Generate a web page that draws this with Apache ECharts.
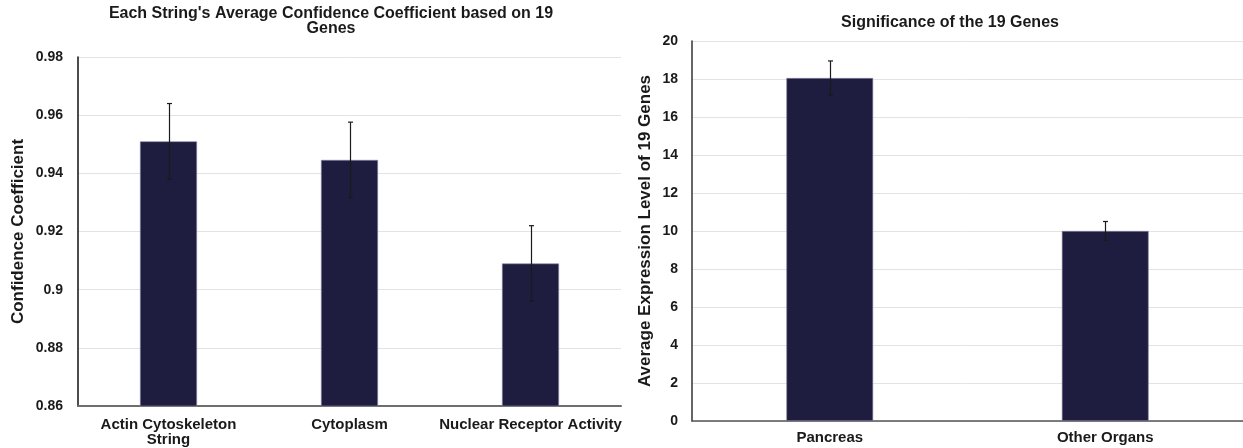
<!DOCTYPE html>
<html>
<head>
<meta charset="utf-8">
<script src="https://cdn.jsdelivr.net/npm/echarts@6/dist/echarts.min.js"></script>
<style>
html,body{margin:0;padding:0;background:#fff;}
#c{width:1243px;height:448px;}
</style>
</head>
<body>
<div id="c"></div>
<script>
// Left chart data
const leftCategories = ['Actin Cytoskeleton\nString', 'Cytoplasm', 'Nuclear Receptor Activity'];
const leftValues = [0.951, 0.9446, 0.909];
const leftErrors = [0.013, 0.013, 0.013];
const leftTitle = "Each String's Average Confidence Coefficient based on 19\nGenes";
const leftYName = 'Confidence Coefficient';

// Right chart data
const rightCategories = ['Pancreas', 'Other Organs'];
const rightValues = [18.05, 10.0];
const rightErrors = [0.9, 0.5];
const rightTitle = 'Significance of the 19 Genes';
const rightYName = 'Average Expression Level of 19 Genes';

const FONT = '"Liberation Sans", Arial, sans-serif';
const BAR = '#1e1d40';

function errSeries(xi, yi, cats, vals, errs) {
  return {
    type: 'custom',
    xAxisIndex: xi, yAxisIndex: yi,
    data: cats.map((c, i) => [i, vals[i] - errs[i], vals[i] + errs[i]]),
    z: 10,
    renderItem: function (params, api) {
      const lo = api.coord([api.value(0), api.value(1)]);
      const hi = api.coord([api.value(0), api.value(2)]);
      const x = Math.round(lo[0]) + 0.5;
      const w = 2.5;
      const st = { stroke: '#1a1a1a', lineWidth: 1.2 };
      return {
        type: 'group',
        children: [
          { type: 'line', shape: { x1: x, y1: lo[1], x2: x, y2: hi[1] }, style: st },
          { type: 'line', shape: { x1: x - w, y1: lo[1], x2: x + w, y2: lo[1] }, style: st },
          { type: 'line', shape: { x1: x - w, y1: hi[1], x2: x + w, y2: hi[1] }, style: st }
        ]
      };
    }
  };
}

const chart = echarts.init(document.getElementById('c'), null, { renderer: 'canvas' });
const tickLabel = { color: '#1a1a1a', fontWeight: 'bold', fontSize: 14, fontFamily: FONT };
const catLabel = { color: '#1a1a1a', fontWeight: 'bold', fontSize: 15, fontFamily: FONT };
const nameStyle = { color: '#1a1a1a', fontWeight: 'bold', fontSize: 17, fontFamily: FONT };

chart.setOption({
  animation: false,
  title: [
    { text: leftTitle, left: 326, top: 1, textAlign: 'center',
      textStyle: { fontSize: 16, fontWeight: 'bold', color: '#1a1a1a', fontFamily: FONT, lineHeight: 15 } },
    { text: rightTitle, left: 945, top: 10, textAlign: 'center',
      textStyle: { fontSize: 16, fontWeight: 'bold', color: '#1a1a1a', fontFamily: FONT } }
  ],
  grid: [
    { left: 78, right: 622, top: 57, bottom: 42, containLabel: false },
    { left: 692, right: -1, top: 41, bottom: 27, containLabel: false }
  ],
  xAxis: [
    { type: 'category', gridIndex: 0, data: leftCategories,
      axisLine: { lineStyle: { color: '#6e6e6e', width: 2 } },
      axisTick: { show: false },
      axisLabel: Object.assign({ margin: 11, lineHeight: 15, interval: 0 }, catLabel) },
    { type: 'category', gridIndex: 1, data: rightCategories,
      axisLine: { lineStyle: { color: '#555', width: 1.5 } },
      axisTick: { show: false },
      axisLabel: Object.assign({ margin: 9, interval: 0 }, catLabel) }
  ],
  yAxis: [
    { type: 'value', gridIndex: 0, min: 0.86, max: 0.98, interval: 0.02,
      name: leftYName, nameLocation: 'middle', nameGap: 51, nameTextStyle: nameStyle,
      axisLine: { show: true, lineStyle: { color: '#111', width: 1.5 } },
      axisTick: { show: false },
      axisLabel: Object.assign({ margin: 15, formatter: v => String(+v.toFixed(2)) }, tickLabel),
      splitLine: { lineStyle: { color: '#e3e3e3', width: 1 } } },
    { type: 'value', gridIndex: 1, min: 0, max: 20, interval: 2,
      name: rightYName, nameLocation: 'middle', nameGap: 38, nameTextStyle: nameStyle,
      axisLine: { show: true, lineStyle: { color: '#333', width: 1.5 } },
      axisTick: { show: false },
      axisLabel: Object.assign({ margin: 14 }, tickLabel),
      splitLine: { lineStyle: { color: '#e3e3e3', width: 1 } } }
  ],
  series: [
    { type: 'bar', xAxisIndex: 0, yAxisIndex: 0, data: leftValues, barWidth: '31.5%',
      itemStyle: { color: BAR, borderColor: '#8a8aa6', borderWidth: 0.6 } },
    errSeries(0, 0, leftCategories, leftValues, leftErrors),
    { type: 'bar', xAxisIndex: 1, yAxisIndex: 1, data: rightValues, barWidth: '31.5%',
      itemStyle: { color: BAR, borderColor: '#8a8aa6', borderWidth: 0.6 } },
    errSeries(1, 1, rightCategories, rightValues, rightErrors)
  ]
});
</script>
</body>
</html>
